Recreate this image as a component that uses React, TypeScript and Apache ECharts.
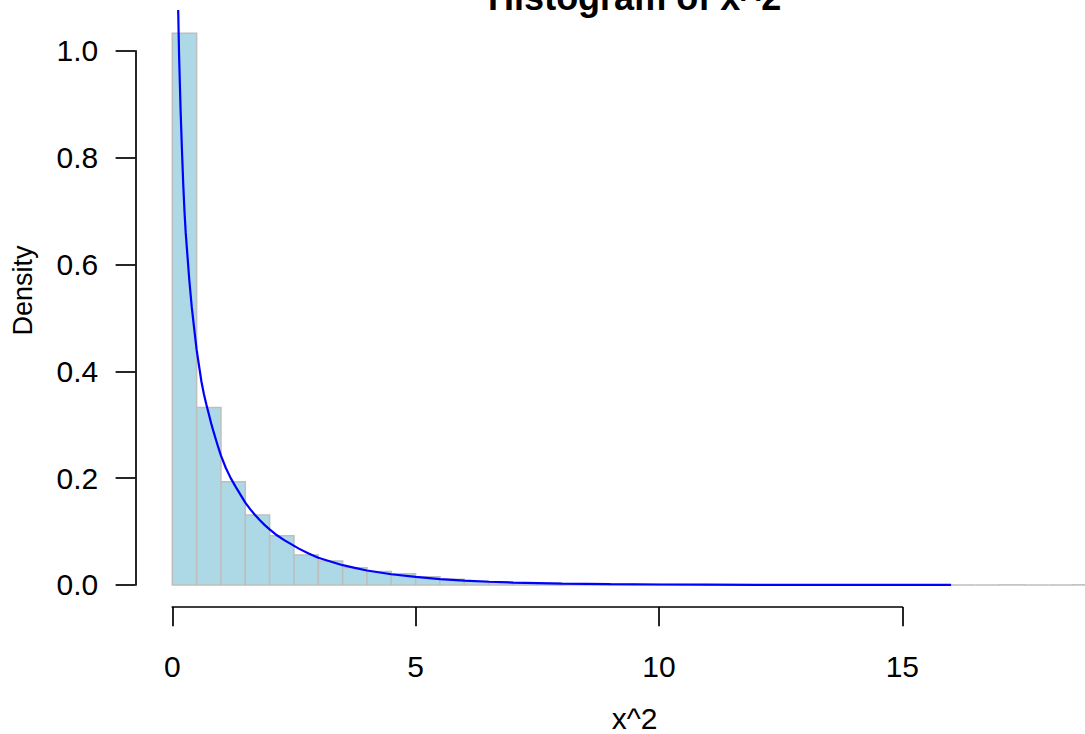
import React, { useEffect, useRef } from "react";
import * as echarts from "echarts";

// ---- data ----
const binLeft = [
  0, 0.5, 1, 1.5, 2, 2.5, 3, 3.5, 4, 4.5, 5, 5.5, 6, 6.5, 7, 7.5, 8, 8.5, 9,
  9.5, 10, 10.5, 11, 11.5, 12, 12.5, 13, 13.5, 14, 14.5, 15, 15.5, 16, 16.5,
  17, 17.5, 18, 18.5,
];
const binRight = [
  0.5, 1, 1.5, 2, 2.5, 3, 3.5, 4, 4.5, 5, 5.5, 6, 6.5, 7, 7.5, 8, 8.5, 9, 9.5,
  10, 10.5, 11, 11.5, 12, 12.5, 13, 13.5, 14, 14.5, 15, 15.5, 16, 16.5, 17,
  17.5, 18, 18.5, 19,
];
const density = [
  1.033, 0.332, 0.193, 0.131, 0.092, 0.056, 0.045, 0.032, 0.025, 0.021, 0.0155,
  0.0105, 0.007, 0.005, 0.004, 0.003, 0.002, 0.0018, 0.0012, 0.001, 0.0008,
  0.0006, 0.0004, 0.0004, 0.0002, 0.0002, 0.0002, 0, 0.0002, 0, 0, 0.0002, 0, 0,
  0.0002, 0, 0, 0.0002,
];
const curveX = [
  0.1, 0.12, 0.14, 0.17, 0.2, 0.225, 0.25, 0.275, 0.3, 0.35, 0.4, 0.45, 0.5,
  0.55, 0.6, 0.65, 0.7, 0.75, 0.8, 0.85, 0.9, 0.95, 1.0, 1.1, 1.2, 1.3, 1.4, 1.5,
  1.6, 1.7, 1.8, 1.9, 2.0, 2.15, 2.3, 2.45, 2.6, 2.8, 3.0, 3.25, 3.5, 3.75, 4.0,
  4.5, 5.0, 5.5, 6.0, 6.5, 7.0, 8.0, 9.0, 10.0, 11.0, 12.0, 13.0, 14.0, 15.0,
  16.0,
];
const curveY = [
  1.2, 1.08, 0.99, 0.89, 0.81, 0.75, 0.7, 0.66, 0.63, 0.57, 0.52, 0.48, 0.44,
  0.41, 0.38, 0.357, 0.338, 0.32, 0.302, 0.286, 0.271, 0.256, 0.242, 0.219, 0.2,
  0.184, 0.169, 0.154, 0.142, 0.131, 0.121, 0.112, 0.104, 0.093, 0.084, 0.076,
  0.068, 0.059, 0.051, 0.044, 0.037, 0.032, 0.027, 0.02, 0.015, 0.011, 0.008,
  0.006, 0.0045, 0.0025, 0.0014, 0.0008, 0.0005, 0.0003, 0.0002, 0.0001,
  0.00005, 0.00003,
];
const xTicks = [0, 5, 10, 15];
const yTickLabels = ["0.0", "0.2", "0.4", "0.6", "0.8", "1.0"];
const titleText = "Histogram of x^2";
const xLabel = "x^2";
const yLabel = "Density";

const FONT = "'Liberation Sans', Arial, Helvetica, sans-serif";

export default function App() {
  const ref = useRef<HTMLDivElement>(null);

  useEffect(() => {
    const chart = echarts.init(ref.current!, null, { renderer: "svg" });

    // layout (pixels)
    const xZeroPx = 172.3;
    const pxPerUnit = 48.67;
    const xMin = -0.76;
    const xMax = 19.76;
    const plotLeft = xZeroPx + xMin * pxPerUnit;
    const plotWidth = (xMax - xMin) * pxPerUnit;
    const yMin = -0.0413;
    const yMax = 1.0746;
    const plotTop = 11;
    const plotHeight = 596;
    const yPix = (v: number) =>
      plotTop + ((yMax - v) / (yMax - yMin)) * plotHeight;
    const yAxisTop = yPix(1);
    const yAxisBottom = yPix(0);
    const xAxisMax = xTicks[xTicks.length - 1];

    const binData = binLeft.map((l, i) => [l, binRight[i], density[i]]);
    const curveData = curveX.map((x, i) => [x, curveY[i]]);

    const axisLineStyle = { color: "#000", width: 1.7 };

    chart.setOption({
      animation: false,
      backgroundColor: "#fff",
      grid: [
        {
          left: plotLeft,
          top: plotTop,
          width: plotWidth,
          height: plotHeight,
          containLabel: false,
          outerBoundsMode: "none",
        },
        {
          left: xZeroPx,
          top: plotTop,
          width: xAxisMax * pxPerUnit,
          height: plotHeight,
          containLabel: false,
          outerBoundsMode: "none",
        },
        {
          left: plotLeft,
          top: yAxisTop,
          width: 100,
          height: yAxisBottom - yAxisTop,
          containLabel: false,
          outerBoundsMode: "none",
        },
      ],
      xAxis: [
        { type: "value", gridIndex: 0, min: xMin, max: xMax, show: false },
        {
          type: "value",
          gridIndex: 1,
          min: 0,
          max: xAxisMax,
          interval: 5,
          position: "bottom",
          axisLine: { show: true, onZero: false, lineStyle: axisLineStyle },
          axisTick: { show: true, length: 19.3, lineStyle: axisLineStyle },
          axisLabel: {
            margin: 44,
            fontSize: 30,
            fontFamily: FONT,
            color: "#000",
          },
          splitLine: { show: false },
        },
        { type: "value", gridIndex: 2, min: 0, max: 1, show: false },
      ],
      yAxis: [
        { type: "value", gridIndex: 0, min: yMin, max: yMax, show: false },
        { type: "value", gridIndex: 1, min: yMin, max: yMax, show: false },
        {
          type: "value",
          gridIndex: 2,
          min: 0,
          max: 1,
          interval: 0.2,
          position: "left",
          axisLine: { show: true, onZero: false, lineStyle: axisLineStyle },
          axisTick: { show: true, length: 19.7, lineStyle: axisLineStyle },
          axisLabel: {
            margin: 37,
            fontSize: 30,
            fontFamily: FONT,
            color: "#000",
            formatter: (v: number) =>
              yTickLabels[Math.round(v / 0.2)] ?? v.toFixed(1),
          },
          splitLine: { show: false },
        },
      ],
      series: [
        {
          type: "custom",
          xAxisIndex: 0,
          yAxisIndex: 0,
          data: binData,
          encode: { x: [0, 1], y: 2 },
          renderItem: (params: any, api: any) => {
            const p0 = api.coord([api.value(0), 0]);
            const p1 = api.coord([api.value(1), api.value(2)]);
            return {
              type: "polygon",
              shape: {
                points: [
                  [p0[0], p0[1]],
                  [p1[0], p0[1]],
                  [p1[0], p1[1]],
                  [p0[0], p1[1]],
                ],
              },
              style: { fill: "#ADD8E6", stroke: "#BEBEBE", lineWidth: 1.5 },
            };
          },
          z: 2,
        },
        {
          type: "line",
          xAxisIndex: 0,
          yAxisIndex: 0,
          data: curveData,
          showSymbol: false,
          symbol: "none",
          smooth: false,
          clip: true,
          lineStyle: { color: "#0000FF", width: 2.2 },
          z: 3,
        },
      ],
      graphic: [
        {
          type: "text",
          x: plotLeft + plotWidth / 2,
          y: -2.5,
          style: {
            text: titleText,
            font: `bold 36px ${FONT}`,
            fill: "#000",
            align: "center",
            verticalAlign: "middle",
            textAlign: "center",
            textVerticalAlign: "middle",
          },
        },
        {
          type: "text",
          x: plotLeft + plotWidth / 2,
          y: 718.5,
          style: {
            text: xLabel,
            font: `30px ${FONT}`,
            fill: "#000",
            align: "center",
            verticalAlign: "middle",
            textAlign: "center",
            textVerticalAlign: "middle",
          },
        },
        {
          type: "text",
          x: 22.5,
          y: 290.5,
          rotation: Math.PI / 2,
          style: {
            text: yLabel,
            font: `27px ${FONT}`,
            fill: "#000",
            align: "center",
            verticalAlign: "middle",
            textAlign: "center",
            textVerticalAlign: "middle",
          },
        },
      ],
    });

    return () => chart.dispose();
  }, []);

  return (
    <div
      ref={ref}
      style={{
        position: "absolute",
        left: 0,
        top: 0,
        width: 1085,
        height: 734,
        background: "#fff",
      }}
    />
  );
}
